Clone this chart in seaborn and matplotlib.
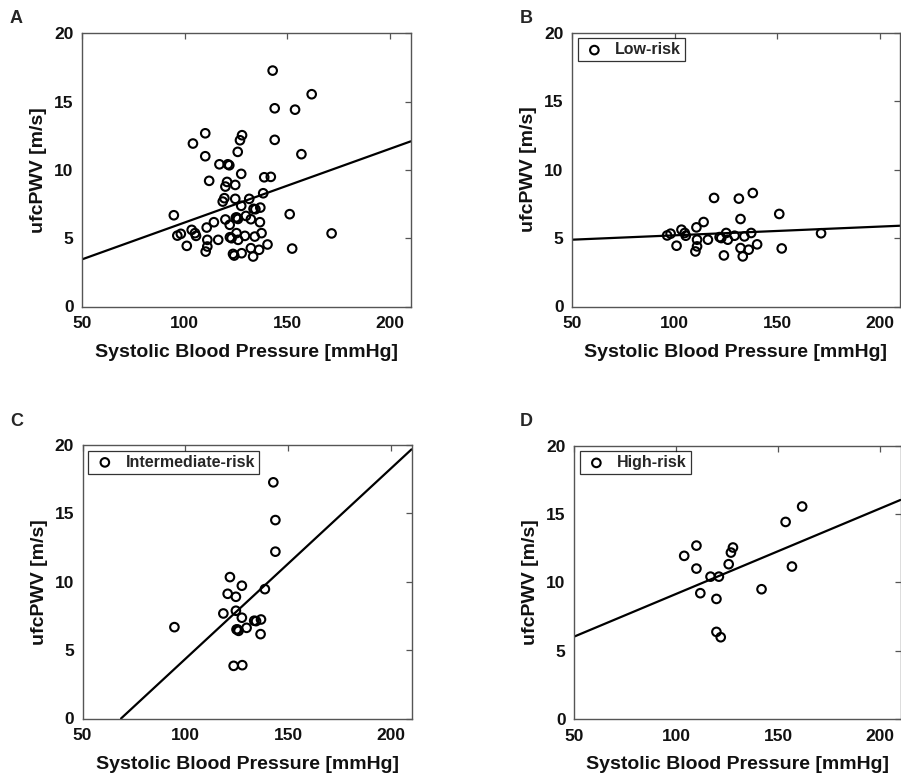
import numpy as np
import pandas as pd
import matplotlib
matplotlib.use("Agg")
import matplotlib.pyplot as plt
import seaborn as sns

# ---------------- data ----------------
low_sbp = [96.4, 98.1, 101.0, 103.4, 105.0, 105.5, 110.7, 114.2, 111.0, 111.0,
           110.2, 116.3, 119.3, 122.0, 122.8, 125.2, 126.0, 129.3, 131.4, 132.2,
           132.2, 133.3, 134.1, 136.2, 137.4, 138.2, 140.3, 151.1, 152.3, 124.1,
           171.5]
low_pwv = [5.19, 5.32, 4.44, 5.61, 5.37, 5.17, 5.78, 6.17, 4.88, 4.39,
           4.02, 4.88, 7.93, 5.07, 5.00, 5.37, 4.88, 5.17, 7.88, 6.39,
           4.27, 3.66, 5.12, 4.15, 5.37, 8.29, 4.54, 6.76, 4.24, 3.73,
           5.35]

int_sbp = [94.7, 118.5, 120.6, 121.7, 124.6, 124.6, 123.5, 127.7, 127.5, 127.5,
           125.4, 125.9, 124.9, 129.8, 133.5, 134.4, 136.8, 136.6, 138.7, 142.8,
           143.8, 143.8]
int_pwv = [6.68, 7.68, 9.12, 10.34, 8.90, 7.88, 3.85, 3.90, 9.71, 7.37,
           6.51, 6.41, 6.51, 6.63, 7.15, 7.12, 7.24, 6.17, 9.46, 17.27,
           14.51, 12.20]

high_sbp = [104.0, 110.0, 110.0, 111.9, 116.9, 121.0, 119.8, 119.8, 121.9, 125.8,
            126.9, 127.9, 141.9, 153.7, 156.8, 161.8]
high_pwv = [11.93, 12.68, 11.00, 9.20, 10.41, 10.41, 8.78, 6.37, 5.98, 11.32,
            12.17, 12.54, 9.49, 14.41, 11.15, 15.54]

panel_letters = ["A", "B", "C", "D"]
legend_labels = [None, "Low-risk", "Intermediate-risk", "High-risk"]
# fitted line value at SBP = 50 and SBP = 210 for each panel
fit_at_50 = [3.45, 4.88, -2.61, 6.02]
fit_at_210 = [12.09, 5.90, 19.68, 16.02]

x_ticks = [50, 100, 150, 200]
y_ticks = [0, 5, 10, 15, 20]
x_label = "Systolic Blood Pressure [mmHg]"
y_label = "ufcPWV [m/s]"

# ---------------- frames ----------------
df_low = pd.DataFrame({"sbp": low_sbp, "pwv": low_pwv})
df_int = pd.DataFrame({"sbp": int_sbp, "pwv": int_pwv})
df_high = pd.DataFrame({"sbp": high_sbp, "pwv": high_pwv})
df_all = pd.concat([df_low, df_int, df_high], ignore_index=True)
frames = [df_all, df_low, df_int, df_high]

# ---------------- style ----------------
sns.set_style("white")
plt.rcParams["font.family"] = ["Liberation Sans", "DejaVu Sans"]
plt.rcParams["font.weight"] = "bold"

fig = plt.figure(figsize=(9.01, 7.75), dpi=100)
W, H = 901.0, 775.0
# axes boxes in pixels: left, top, right, bottom
boxes = [(82, 33.3, 410.7, 306.5),
         (572, 32.7, 900, 306.5),
         (82.5, 445, 411.5, 718.5),
         (574, 445.5, 900.5, 719)]
letter_pos = [(10, 10), (520, 10), (10, 413), (520, 413)]

spine_col = "#555555"
for i, (df, (l, t, r, b)) in enumerate(zip(frames, boxes)):
    ax = fig.add_axes([l / W, 1 - b / H, (r - l) / W, (b - t) / H])
    sns.scatterplot(data=df, x="sbp", y="pwv", ax=ax, marker="o", s=38,
                    facecolor="none", edgecolor="black", linewidth=1.5,
                    label=legend_labels[i], legend=False, zorder=3)
    ax.axline((50, fit_at_50[i]), (210, fit_at_210[i]), color="black",
              linewidth=1.6, zorder=2)
    ax.set_xlim(50, 210)
    ax.set_ylim(0, 20)
    ax.set_xticks(x_ticks)
    ax.set_yticks(y_ticks)
    ax.tick_params(direction="in", length=4, width=0.9, color=spine_col,
                   top=True, right=True, labelsize=12.5, pad=6,
                   labelcolor="#111111")
    ax.tick_params(axis="x", pad=7)
    for lab in ax.get_xticklabels() + ax.get_yticklabels():
        lab.set_fontweight("bold")
    for sp in ax.spines.values():
        sp.set_visible(True)
        sp.set_color(spine_col)
        sp.set_linewidth(1.0)
    ax.set_xlabel(x_label, fontsize=14, fontweight="bold", labelpad=9,
                  color="#111111")
    ax.set_ylabel(y_label, fontsize=14, fontweight="bold", labelpad=5,
                  color="#111111")
    if legend_labels[i] is not None:
        leg = ax.legend(loc="upper left", fontsize=11.5, frameon=True,
                        fancybox=False, borderaxespad=0.35, handletextpad=0.5,
                        borderpad=0.25, handlelength=1.6)
        leg.get_frame().set_edgecolor("black")
        leg.get_frame().set_linewidth(0.9)
        for txt in leg.get_texts():
            txt.set_fontweight("bold")
    fig.text(letter_pos[i][0] / W, 1 - letter_pos[i][1] / H, panel_letters[i],
             fontsize=13, fontweight="bold", va="top", ha="left")

fig.savefig("out.png", dpi=100)
